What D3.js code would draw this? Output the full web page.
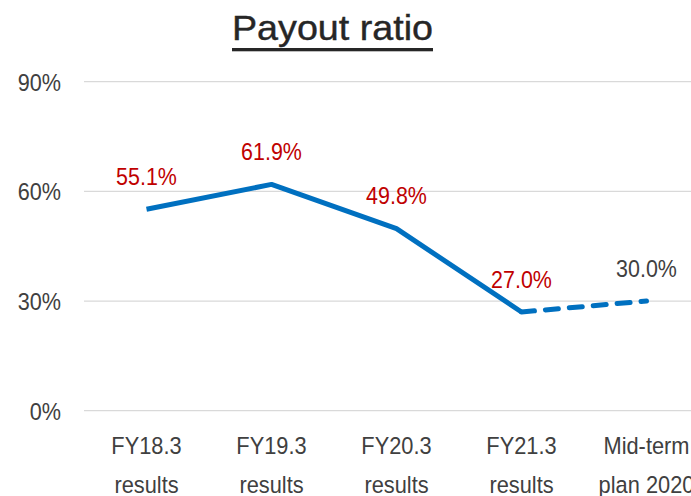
<!DOCTYPE html>
<html>
<head>
<meta charset="utf-8">
<script src="https://cdn.jsdelivr.net/npm/d3@7"></script>
<style>
  body { margin: 0; background: #fff; }
  svg { display: block; font-family: "Liberation Sans Narrow", "Arial Narrow", "Liberation Sans", sans-serif; }
</style>
</head>
<body>
<svg id="chart" width="691" height="496"></svg>
<script>
const categories = ["FY18.3", "FY19.3", "FY20.3", "FY21.3", "Mid-term"];
const subLabels = ["results", "results", "results", "results", "plan 2020"];
const payout = [55.1, 61.9, 49.8, 27.0, 30.0];
const yTicks = [0, 30, 60, 90];
const actualCount = 4; // first four are results, last is plan

const svg = d3.select('#chart');

// narrow look: squeeze each text horizontally
function squeeze(sel, k) {
  sel.each(function () {
    const w = this.getComputedTextLength();
    d3.select(this).attr('textLength', w * k).attr('lengthAdjust', 'spacingAndGlyphs');
  });
}

const x = d3.scaleBand()
  .domain(d3.range(categories.length))
  .range([84, 709]);

const y = d3.scaleLinear()
  .domain([0, 90])
  .range([410.7, 81.7]);

const cx = i => x(i) + x.bandwidth() / 2;

// title
const title = svg.append('text')
  .attr('x', 332.5).attr('y', 40)
  .attr('text-anchor', 'middle')
  .attr('font-size', 35)
  .attr('fill', '#262626')
  .attr('stroke', '#262626').attr('stroke-width', 0.4)
  .text('Payout ratio');
title.attr('textLength', 201).attr('lengthAdjust', 'spacingAndGlyphs');
svg.append('rect')
  .attr('x', 332.5 - 100.5).attr('y', 48)
  .attr('width', 201).attr('height', 3.3)
  .attr('fill', '#262626');

// gridlines
svg.append('g')
  .selectAll('line')
  .data(yTicks)
  .join('line')
  .attr('x1', 84).attr('x2', 691)
  .attr('y1', d => y(d)).attr('y2', d => y(d))
  .attr('stroke', '#d9d9d9').attr('stroke-width', 1.3);

// y labels
svg.append('g')
  .selectAll('text')
  .data(yTicks)
  .join('text')
  .attr('x', 61).attr('y', d => y(d) + 9)
  .attr('text-anchor', 'end')
  .attr('font-size', 24)
  .attr('fill', '#404040')
  .text(d => d + '%')
  .call(squeeze, 0.9);

// x labels
const xg = svg.append('g').attr('font-size', 24.5).attr('fill', '#404040').attr('text-anchor', 'middle');
xg.selectAll('text.l1')
  .data(categories)
  .join('text').attr('class', 'l1')
  .attr('x', (d, i) => cx(i)).attr('y', 454)
  .text(d => d)
  .call(squeeze, 0.89);
xg.selectAll('text.l2')
  .data(subLabels)
  .join('text').attr('class', 'l2')
  .attr('x', (d, i) => cx(i)).attr('y', 493)
  .text(d => d)
  .call(squeeze, 0.89);

const line = d3.line().x(d => cx(d.i)).y(d => y(d.v));
const pts = payout.map((v, i) => ({ v, i }));

svg.append('path')
  .datum(pts.slice(0, actualCount))
  .attr('d', line)
  .attr('fill', 'none')
  .attr('stroke', '#0070C0')
  .attr('stroke-width', 5)
  .attr('stroke-linejoin', 'round');

svg.append('path')
  .datum(pts.slice(actualCount - 1))
  .attr('d', line)
  .attr('fill', 'none')
  .attr('stroke', '#0070C0')
  .attr('stroke-width', 5)
  .attr('stroke-linecap', 'round')
  .attr('stroke-dasharray', '13,11');

// value labels
svg.append('g')
  .selectAll('text')
  .data(pts)
  .join('text')
  .attr('x', d => cx(d.i))
  .attr('y', d => y(d.v) - 24.5)
  .attr('text-anchor', 'middle')
  .attr('font-size', 23.3)
  .attr('fill', d => d.i < actualCount ? '#C00000' : '#404040')
  .text(d => d.v.toFixed(1) + '%')
  .call(squeeze, 0.92);
</script>
</body>
</html>
